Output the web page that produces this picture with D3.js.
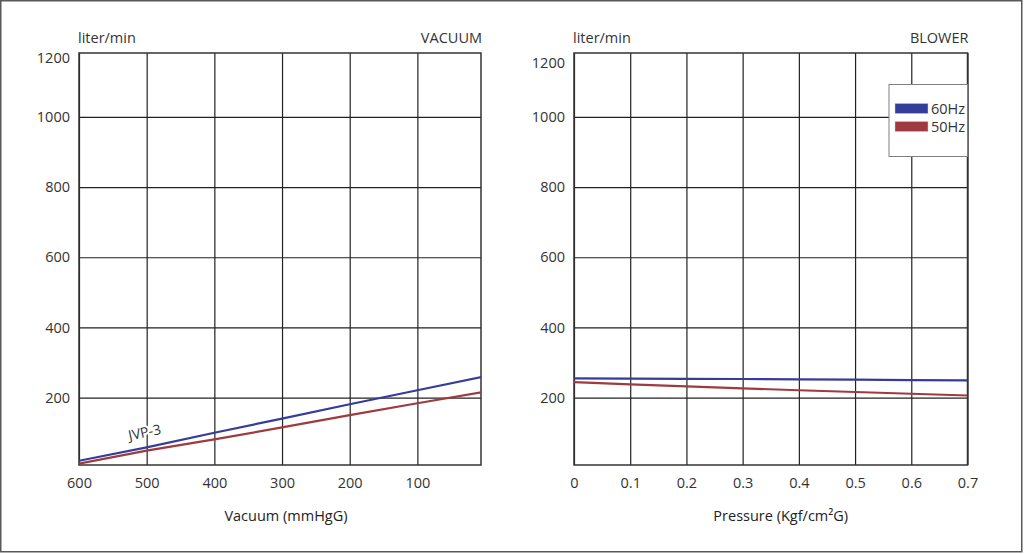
<!DOCTYPE html>
<html>
<head>
<meta charset="utf-8">
<script src="https://cdn.jsdelivr.net/npm/d3@7/dist/d3.min.js"></script>
<style>
  html, body { margin: 0; padding: 0; background: #fff; }
  svg { display: block; font-family: "Open Sans", "Noto Sans", sans-serif; }
</style>
</head>
<body>
<svg id="chart" width="1024" height="554"></svg>
<script>
// ---------- data ----------
const yUnit = "liter/min";
const yTicks = [200, 400, 600, 800, 1000, 1200];

const vacTitle = "VACUUM";
const vacXLabel = "Vacuum (mmHgG)";
const vacXTicks = [600, 500, 400, 300, 200, 100];
const vacX = [600, 500, 400, 300, 200, 100, 0];
const vac60 = [20, 58, 100, 140, 181, 221, 261];
const vac50 = [12, 49, 81, 115, 150, 184, 217];
const modelLabel = "JVP-3";

const blowTitle = "BLOWER";
const blowXLabel = "Pressure (Kgf/cm\u00B2G)";
const blowXTicks = [0, 0.1, 0.2, 0.3, 0.4, 0.5, 0.6, 0.7];
const blowX = [0, 0.1, 0.2, 0.3, 0.4, 0.5, 0.6, 0.7];
const blow60 = [255, 254, 253.5, 253, 252, 251, 250, 249];
const blow50 = [244, 238, 232, 226.5, 221, 216, 211, 206];

const seriesNames = ["60Hz", "50Hz"];
const seriesColors = ["#353c9a", "#9e3b3e"];

// ---------- layout ----------
const svg = d3.select("#chart");
const textColor = "#333";
const gridColor = "#222";

svg.append("rect")
  .attr("x", 0.75).attr("y", 0.75)
  .attr("width", 1021).attr("height", 551)
  .attr("fill", "none").attr("stroke", "#595959").attr("stroke-width", 1.5);

function panel(opts) {
  const { left, right, top, bottom, xDomain, xTicks, xFmt, xs, s60, s50, title, xLabel, xLabelOffset, topLabelDy } = opts;
  const w = right - left, h = bottom - top;
  const g = svg.append("g").attr("transform", `translate(${left},${top})`);

  const x = d3.scaleLinear().domain(xDomain).range([0, w]);
  const y = d3.scaleLinear().domain([8, 1182]).range([h, 0]).clamp(true);

  // horizontal grid + y labels
  const ya = g.append("g").call(
    d3.axisLeft(y).tickValues(yTicks).tickFormat(d3.format("d"))
      .tickSizeInner(-w).tickSizeOuter(0).tickPadding(9)
  );
  ya.select(".domain").remove();
  ya.selectAll(".tick line").attr("stroke", gridColor).attr("stroke-width", 1.2)
    .filter(d => d >= 1182).remove();
  ya.selectAll(".tick text")
    .attr("fill", textColor).attr("font-size", 14.5)
    .attr("font-family", '"Open Sans", sans-serif')
    .filter(d => d === 1200).attr("dy", topLabelDy);

  // vertical grid + x labels
  const xa = g.append("g").attr("transform", `translate(0,${h})`).call(
    d3.axisBottom(x).tickValues(xTicks).tickFormat(xFmt).tickSizeInner(-h).tickSizeOuter(0).tickPadding(12.5)
  );
  xa.select(".domain").remove();
  xa.selectAll(".tick line").attr("stroke", gridColor).attr("stroke-width", 1.2);
  xa.selectAll(".tick text")
    .attr("fill", textColor).attr("font-size", 14.5)
    .attr("font-family", '"Open Sans", sans-serif');

  // frame of plot
  g.append("rect").attr("x", 0).attr("y", 0).attr("width", w).attr("height", h)
    .attr("fill", "none").attr("stroke", "#333").attr("stroke-width", 1.5);

  // clip
  const clipId = "clip" + Math.round(left);
  g.append("clipPath").attr("id", clipId).append("rect")
    .attr("x", 0).attr("y", 0).attr("width", w).attr("height", h);

  const line = d3.line().x(d => x(d[0])).y(d => y(d[1]));
  [s50, s60].forEach((s, i) => {
    const col = i === 0 ? seriesColors[1] : seriesColors[0];
    g.append("path")
      .datum(xs.map((v, k) => [v, s[k]]))
      .attr("clip-path", `url(#${clipId})`)
      .attr("d", line)
      .attr("fill", "none").attr("stroke", col).attr("stroke-width", 2.2);
  });

  // unit and title
  g.append("text").attr("x", -1).attr("y", -15).attr("dy", "0.35em")
    .attr("fill", textColor).attr("font-size", 14.5).text(yUnit);
  g.append("text").attr("x", w + 1).attr("y", -15.5).attr("dy", "0.35em")
    .attr("text-anchor", "end").attr("fill", textColor).attr("font-size", 14.5).text(title);

  // x label
  g.append("text").attr("x", w / 2 + xLabelOffset).attr("y", h + 51).attr("dy", "0.35em")
    .attr("text-anchor", "middle").attr("fill", "#222").attr("font-size", 14.5).text(xLabel);

  return { g, x, y, w, h };
}

const L = panel({
  left: 79, right: 481, top: 53, bottom: 465,
  xDomain: [600, 6], xTicks: vacXTicks, xFmt: d3.format("d"),
  xs: vacX, s60: vac60, s50: vac50, title: vacTitle, xLabel: vacXLabel, xLabelOffset: 6,
  topLabelDy: "0.68em"
});

// model label along the lines (white halo hides the grid line behind it)
L.g.append("text")
  .attr("transform", `translate(${L.x(503)},${L.y(101)}) rotate(-12)`)
  .attr("text-anchor", "middle").attr("dy", "0.35em")
  .attr("fill", textColor).attr("stroke", "#fff").attr("stroke-width", 4)
  .attr("paint-order", "stroke").attr("stroke-linejoin", "round")
  .attr("font-size", 14).text(modelLabel);

const R = panel({
  left: 574, right: 967.5, top: 53, bottom: 465,
  xDomain: [0, 0.7], xTicks: blowXTicks, xFmt: d => d === 0 ? "0" : d3.format(".1f")(d),
  xs: blowX, s60: blow60, s50: blow50, title: blowTitle, xLabel: blowXLabel, xLabelOffset: 10,
  topLabelDy: "1.0em"
});

// legend
const lg = R.g.append("g").attr("transform", `translate(${R.w - 78.5},${31.5})`);
lg.append("rect").attr("x", 0).attr("y", 0).attr("width", 78.5).attr("height", 72)
  .attr("fill", "#fff").attr("stroke", "#808080").attr("stroke-width", 1);
seriesNames.forEach((name, i) => {
  lg.append("rect").attr("x", 6).attr("y", 19 + i * 18).attr("width", 33).attr("height", 10)
    .attr("fill", seriesColors[i]).attr("stroke", "#c8c8dc").attr("stroke-width", 0.5);
  lg.append("text").attr("x", 42).attr("y", 24 + i * 18).attr("dy", "0.35em")
    .attr("fill", textColor).attr("font-size", 14.5).text(name);
});
</script>
</body>
</html>
